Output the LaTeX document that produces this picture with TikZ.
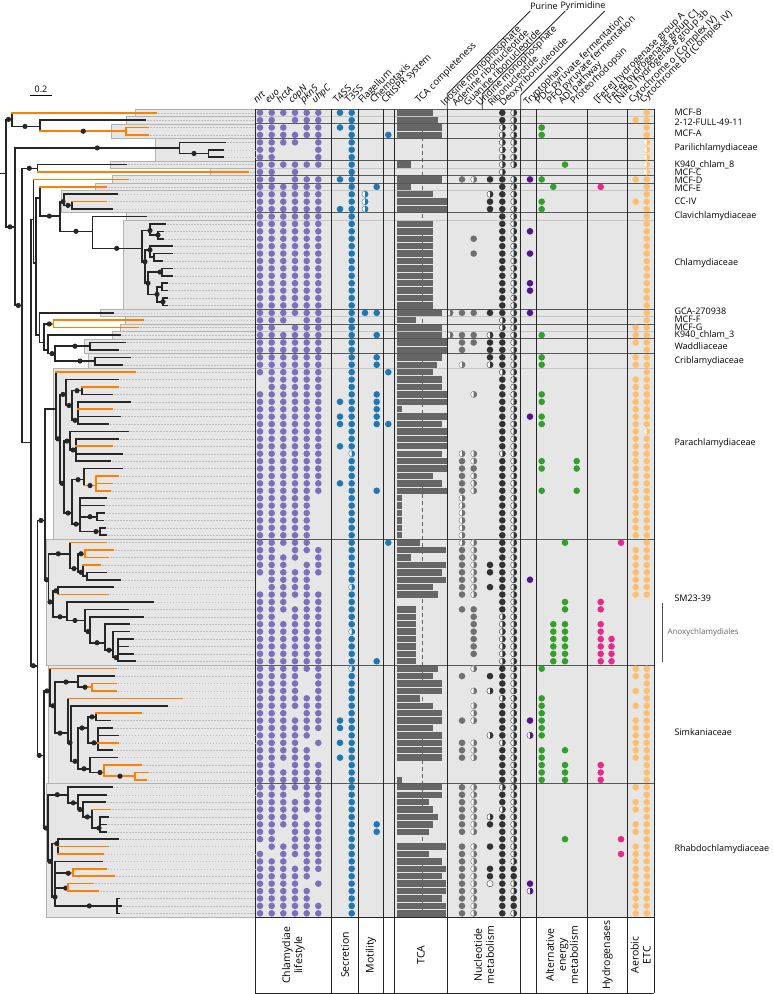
\documentclass[tikz,border=0pt]{standalone}
\usepackage{fontspec}
\setmainfont{Open Sans}
\definecolor{lifeP}{RGB}{124,112,188}
\definecolor{secB}{RGB}{31,120,180}
\definecolor{tcaG}{RGB}{102,102,102}
\definecolor{nucG}{RGB}{112,112,112}
\definecolor{nucK}{RGB}{50,50,50}
\definecolor{trpP}{RGB}{84,20,140}
\definecolor{altG}{RGB}{51,160,44}
\definecolor{hydP}{RGB}{231,41,138}
\definecolor{etcO}{RGB}{253,191,111}
\definecolor{brO}{RGB}{255,127,0}
\definecolor{boxG}{RGB}{230,230,230}
\def\dotr{3.3}
\newcommand\fulldot[3]{\fill[#3] (#1,{ry(#2)}) circle[radius=\dotr];}
\newcommand\halfdot[3]{\fill[white] (#1,{ry(#2)}) circle[radius=\dotr];
  \fill[#3] (#1,{ry(#2)-\dotr}) arc[start angle=-90,end angle=90,radius=\dotr] -- cycle;
  \draw[#3,line width=0.4pt] (#1,{ry(#2)}) circle[radius=3.1];}
\makeatletter
\newcommand\dotcol[6]{%
  \foreach \r in {0,...,108}{%
    \def\dcode{#3}%
    \edef\dtmp{\noexpand\in@{,\r,}{,#4,}}\dtmp\ifin@\def\dcode{F}\fi
    \edef\dtmp{\noexpand\in@{,\r,}{,#5,}}\dtmp\ifin@\def\dcode{H}\fi
    \edef\dtmp{\noexpand\in@{,\r,}{,#6,}}\dtmp\ifin@\def\dcode{N}\fi
    \if F\dcode\fulldot{#1}{\r}{#2}\fi
    \if H\dcode\halfdot{#1}{\r}{#2}\fi
  }%
}
\makeatother
\newcommand\Th[3]{\draw[trB] (#1,{ry(#3)}) -- (#2,{ry(#3)});}
\newcommand\To[3]{\draw[trO] (#1,{ry(#3)}) -- (#2,{ry(#3)});}
\newcommand\Tv[3]{\draw[trB] (#1,{ry(#2)}) -- (#1,{ry(#3)});}
\newcommand\Tw[3]{\draw[trO] (#1,{ry(#2)}) -- (#1,{ry(#3)});}
\newcommand\Lb[3]{\draw[guide] ({#2+2},{ry(#3)}) -- (255,{ry(#3)});\draw[trB] (#1,{ry(#3)}) -- (#2,{ry(#3)});}
\newcommand\Lo[3]{\draw[guide] ({#2+2},{ry(#3)}) -- (255,{ry(#3)});\draw[trO] (#1,{ry(#3)}) -- (#2,{ry(#3)});}
\newcommand\Nd[2]{\fill[black!85] (#1,{ry(#2)}) circle[radius=2.6];}
\newcommand\Bx[3]{\draw[cbox] (#1,{109+7.413*#2}) rectangle (654,{109+7.413*#3});}
\begin{document}
\begin{tikzpicture}[x=1pt,y=-1pt,declare function={ry(\r)=112.7+7.413*\r;},
 trB/.style={line width=1.6pt,black!85,line cap=rect},
 trO/.style={line width=1.6pt,brO,line cap=rect},
 guide/.style={gray!50,line width=0.4pt,dash pattern=on 1.5pt off 1.5pt},
 cbox/.style={fill=boxG,draw=gray!60,line width=0.6pt},
 sepD/.style={black!65,line width=0.8pt},
 sepL/.style={gray!45,line width=1.3pt},
 colL/.style={black!85,line width=0.8pt},
 hdr/.style={rotate=45,anchor=base west,inner sep=0pt,font=\fontsize{9.5}{10}\selectfont},
 rlab/.style={anchor=west,inner sep=0pt,font=\fontsize{9}{10}\selectfont},
 blab/.style={rotate=90,align=center,inner sep=0pt,font=\fontsize{10.5}{12}\selectfont}]
\useasboundingbox (0,0) rectangle (773,994);
\fill[white] (0,0) rectangle (773,994);
% clade boxes
\Bx{135}{0}{1}\Bx{126.7}{1}{2}\Bx{111.7}{2}{4}\Bx{155}{4}{7}\Bx{110.7}{7}{8}
\Bx{210.7}{8}{9}\Bx{112.7}{9}{10}\Bx{95}{10}{11}\Bx{61.7}{11}{14}\Bx{126.7}{14}{15}
\Bx{123.3}{15}{27}\Bx{100}{27}{28}\Bx{125}{28}{29}\Bx{120.7}{29}{30}\Bx{112}{30}{31}
\Bx{84}{31}{33}\Bx{88}{33}{35}\Bx{53}{35}{58}\Bx{46}{58}{75}\Bx{48}{75}{91}\Bx{46}{91}{109}
% table
\fill[boxG] (255,109) rectangle (654,917);
\draw[tcaG,line width=0.9pt,dash pattern=on 4pt off 3pt] (422,109) -- (422,917);
\foreach \r/\e in {0/433,1/438,2/442,3/442,7/411,9/442,10/411,11/433,12/447,13/447,
15/433,16/433,17/433,18/433,19/433,20/433,21/433,22/433,23/433,24/433,25/433,26/433,
27/442,28/416,29/442,30/442,31/447,32/447,33/442,34/437,35/433,36/442,37/442,38/447,39/447,40/402,41/447,42/442,43/447,44/447,45/447,46/442,47/447,48/447,49/433,50/442,51/447,
52/402,53/402,54/402,55/402,56/402,57/402,58/420,59/446,60/411,61/446,62/442,63/446,64/433,65/438,
67/416,68/416,69/416,70/416,71/416,72/416,73/416,74/416,
75/438,76/433,77/442,78/442,79/420,80/433,81/442,82/442,83/433,84/442,85/442,86/442,87/442,90/402,
91/442,92/442,93/429,94/433,95/438,96/433,97/429,99/446,100/429,101/442,102/446,103/442,104/446,105/446,106/442,107/446,108/446}
  {\fill[tcaG] (397.3,{ry(\r)-3.2}) rectangle (\e,{ry(\r)+3.2});}
\foreach \k in {1,8,11,15,28,30,35} \draw[sepL] (255,{109+7.413*\k}) -- (654,{109+7.413*\k});
\foreach \k in {0,2,4,7,9,10,14,27,29,31,33,58,75,91,109} \draw[sepD] (255,{109+7.413*\k}) -- (654,{109+7.413*\k});
% dots
\dotcol{260}{lifeP}{F}{}{}{36,37,63,64,99}
\dotcol{271.7}{lifeP}{F}{}{}{100}
\dotcol{283.3}{lifeP}{F}{}{}{1,5,6,8,9,29,59,68,88,97,98}
\dotcol{295}{lifeP}{F}{}{}{2,5,6,28,61,66,81,92,101}
\dotcol{306.7}{lifeP}{F}{}{}{4,5,6,8,60,76,77,78,85,95,104}
\dotcol{318.3}{lifeP}{F}{}{}{8,52,53,54,55,56,57,58,63,64,84,86,87,103,105,106}
\dotcol{340}{secB}{N}{0,2,9,13,39,41,42,45,50,82,83,85,87}{}{}
\dotcol{351.7}{secB}{F}{}{46,64,70,75}{}
\dotcol{365}{secB}{N}{27}{11,12,13}{}
\dotcol{376.7}{secB}{N}{10,27,30,33,34,38,39,40,41,42,51,74,96,97}{}{}
\dotcol{388.3}{secB}{N}{3,35,42,58}{}{}
\dotcol{450}{nucG}{N}{}{27,30}{}
\dotcol{462}{nucG}{N}{9,27,30,31,32,47,48,49,50,51,59,60,61,62,63,64,65,67,76,82,85,86,87,91,92,93,94,95,96,97,99,100,101,102,103,104,105,106,107,108}{34,46,52,53,54,55,56,57,58}{}
\dotcol{473.7}{nucG}{N}{17,19,27,30,31,48,67,68,69,70,71,72,73}{9,38,46,47,49,50,51,58,59,60,61,62,63,64,65,75,78,80,81,82,85,86,87,91,92,93,94,95,96,97,99,100,101,102,103,104,105,106,107,108}{}
\dotcol{490}{nucK}{N}{9,12,13,27,31,32,33,61,62,64,76,96,99,102,103}{11,30,34,78,84,95}{}
\draw[nucK,fill=white,line width=0.4pt] (490,{ry(104)}) circle[radius=3.1];
\dotcol{502.3}{nucK}{F}{}{2,3,4,5,6,7,8,28,29,35,46,68,69,70,71,72,73,74,79,85,91,94}{}
\dotcol{513.7}{nucK}{H}{102,103,106,107}{}{8}
\dotcol{530}{trpP}{N}{9,16,19,23,24,27,41,63,82,104}{84,105}{}
\dotcol{541.7}{altG}{N}{2,3,9,12,13,30,33,34,38,39,41,42,47,48,51,75,79,80,81,82,83,84,86,87,88,89,90}{}{}
\dotcol{553.3}{altG}{N}{10,69,70,71,72,73,74}{}{}
\dotcol{565}{altG}{N}{7,58,66,67,69,70,71,72,73,74,86,88,89,90,98}{}{}
\dotcol{576.7}{altG}{N}{47,48,51}{}{}
\dotcol{600.7}{hydP}{N}{10,66,67,69,70,71,72,73,74,88,89,90}{}{}
\dotcol{611.5}{hydP}{N}{71,72,73,74}{}{}
\dotcol{621}{hydP}{N}{58,98,100}{}{}
\dotcol{635.7}{etcO}{N}{1,9,12,29,30,31,33,34,36,37,38,39,40,41,42,43,44,45,46,47,48,49,50,51,52,53,54,55,56,57,59,60,61,62,63,64,65,75,76,78,80,82,83,84,85,86,87,91,93,94,96,97,99,100,101,102,103,104,105,106,107,108}{}{}
\dotcol{646.7}{etcO}{F}{}{4,5,6,7,8,43}{66,67,68,69,70,71,72,73,74}
% column lines
\foreach \x in {255,331.7,358.3,383.3,394.3,447.3,520.7,536,587.7,627.3,654} \draw[colL] (\x,109) -- (\x,993);
\draw[colL] (255,917) -- (654,917);
\draw[colL] (255,993) -- (654,993);
\draw[colL] (447.3,109) -- (447.3,94) -- (530.3,11);
\draw[colL] (482.3,109) -- (482.3,94) -- (565.3,11);
\draw[colL] (520.7,109) -- (520.7,95) -- (604.7,11);
% tree
\Th{0}{6}{8.2}\Tv{6}{0.9}{15.4}
\Th{6}{11.7}{0.9}\Nd{8.5}{0.9}\Tv{11.7}{0}{1.85}
\Lo{11.7}{156}{0}
\Th{11.7}{40}{1.85}\Nd{25}{1.85}\Tv{40}{1}{2.5}
\Lb{40}{145}{1}
\To{40}{126}{2.5}\Nd{83.3}{2.5}\Tw{126}{2}{3}
\Lo{126}{148}{2}\Lo{126}{148}{3}
\Th{6}{15}{15.4}\Nd{10}{15.4}\Tv{15}{4.75}{26}
\Th{15}{179.3}{4.75}\Nd{97.3}{4.75}\Tv{179.3}{4}{5.5}
\Lb{179.3}{225}{4}
\Th{179.3}{208.3}{5.5}\Nd{194}{5.5}\Tv{208.3}{5}{6}
\Lb{208.3}{222.7}{5}\Lb{208.3}{222.7}{6}
\Th{15}{21.7}{26}\Nd{18.3}{26}\Tv{21.7}{7.5}{44.5}
\Th{21.7}{37.3}{7.5}\Nd{29.3}{7.5}\Tv{37.3}{7}{8}
\Lb{37.3}{126}{7}\Lo{37.3}{248.3}{8}
\Th{21.7}{30.7}{44.5}\Tv{30.7}{14.4}{74.6}
\Th{30.7}{33.3}{14.4}\Tv{33.3}{9}{20.3}
\Lo{33.3}{127.7}{9}
\Th{33.3}{36}{20.3}\Tv{36}{11.5}{30}
\Th{36}{40}{11.5}\Tv{40}{10}{13.95}
\Lo{40}{106}{10}
\Th{40}{60}{13.95}\Nd{49.3}{13.95}\Tv{60}{12}{16}
\Th{60}{64}{12}\Nd{63}{12}\Tv{64}{11}{12.5}
\Lb{64}{116.7}{11}
\Th{64}{71.7}{12.5}\Nd{68}{12.5}\Tv{71.7}{12}{13}
\Lo{71.7}{106}{12}\Lb{71.7}{111.7}{13}
\Th{60}{92.3}{16}\Nd{76}{16}\Tv{92.3}{14}{18.3}
\Lb{92.3}{145.7}{14}
\Th{92.3}{141.7}{18.3}\Nd{116.7}{18.3}\Tv{141.7}{15.9}{20.1}
\Th{141.7}{150}{15.9}\Nd{150}{15.9}\Tv{150}{15}{16.5}
\Lb{150}{165}{15}
\Th{150}{158}{16.5}\Nd{158}{16.5}\Tv{158}{16}{17}
\Lb{158}{163}{16}\Lb{158}{163}{17}
\Th{141.7}{145}{20.1}\Nd{145}{20.1}\Tv{145}{18.5}{23}
\Th{145}{150}{18.5}\Nd{150}{18.5}\Tv{150}{18}{19.5}
\Lb{150}{172}{18}
\Th{150}{154}{19.5}\Tv{154}{19}{20}
\Lb{154}{172}{19}\Lb{154}{162}{20}
\Th{145}{148}{23}\Nd{148}{23}\Tv{148}{21.5}{24.5}
\Th{148}{162}{21.5}\Nd{160}{21.5}\Tv{162}{21}{22}
\Lb{162}{172}{21}\Lb{162}{172}{22}
\Th{148}{157}{24.5}\Nd{157}{24.5}\Tv{157}{23.5}{25.5}
\Th{157}{162}{23.5}\Tv{162}{23}{24}
\Lb{162}{167}{23}\Lb{162}{167}{24}
\Th{157}{163}{25.5}\Nd{163}{25.5}\Tv{163}{25}{26}
\Lb{163}{167}{25}\Lb{163}{167}{26}
\Th{36}{39.3}{30}\Tv{39.3}{27}{31}
\Lb{39.3}{112.7}{27}
\Th{39.3}{44}{31}\Tv{44}{28.5}{32}
\Th{44}{49.3}{28.5}\To{49.3}{53.3}{28.5}\Nd{49.3}{28.5}\Tw{53.3}{28}{29}
\Lo{53.3}{142.7}{28}\Lo{53.3}{138.3}{29}
\Th{44}{48}{32}\Tv{48}{30}{32.5}
\Lb{48}{120}{30}
\Th{48}{55}{32.5}\Nd{52}{32.5}\Tv{55}{31.5}{33.5}
\Th{55}{90}{31.5}\Nd{75}{31.5}\Tv{90}{31}{32}
\Lb{90}{125}{31}\Lb{90}{118}{32}
\Th{55}{95}{33.5}\Nd{80}{33.5}\Tv{95}{33}{34}
\Lb{95}{130}{33}\Lb{95}{122}{34}
% E, F, Parachlamydiaceae
\Th{30.7}{37.3}{74.6}\Nd{33.3}{74.6}\Tv{37.3}{55}{86.7}
\Th{37.3}{45}{55}\Nd{41}{55}\Tv{45}{40}{63}
\Th{45}{56}{40}\Tv{56}{35}{44}
\Lo{56}{135}{35}
\Th{56}{60}{44}\Nd{58}{44}\Tv{60}{38}{50}
\Th{60}{66}{38}\Nd{63}{38}\Tv{66}{36}{39.5}
\Lb{66}{118}{36}
\Th{66}{72}{39.5}\Nd{69}{39.5}\Tv{72}{37.5}{41.5}
\Th{72}{82}{37.5}\Nd{77}{37.5}\Tv{82}{37}{38}
\Lo{82}{118}{37}\Lb{82}{112}{38}
\Th{72}{78}{41.5}\Nd{75}{41.5}\Tv{78}{39}{42}
\Lb{78}{130}{39}\Lo{78}{112}{40}\Lb{78}{120}{41}\Lb{78}{108}{42}
\Th{60}{64}{50}\Nd{62}{50}\Tv{64}{44.3}{54}
\Th{64}{70}{44.3}\Nd{67}{44.3}\Tv{70}{43}{45.5}
\Lb{70}{128}{43}
\Th{70}{76}{45.5}\Nd{73}{45.5}\Tv{76}{44}{47}
\Lb{76}{118}{44}\Lo{76}{112}{45}\Lb{76}{122}{46}\Lb{76}{110}{47}
\Th{64}{72}{54}\Nd{68}{54}\Tv{72}{49.5}{55.5}
\Th{72}{84}{49.5}\Nd{78}{49.5}\Tv{84}{48}{50.3}
\Lb{84}{122}{48}
\To{84}{96}{50.3}\Nd{90}{50.3}\Tw{96}{49}{51}
\Lo{96}{118}{49}\Lo{96}{112}{50}\Lo{96}{110}{51}
\Th{72}{80}{55.5}\Nd{76}{55.5}\Tv{80}{52}{56.5}
\Lb{80}{106}{52}\Lb{80}{104}{53}
\Th{80}{97}{54.5}\Nd{90}{54.5}\Tv{97}{54}{55}
\Lb{97}{104}{54}\Lb{97}{103}{55}
\Th{80}{100}{56.5}\Nd{96}{56.5}\Tv{100}{56}{57}
\Lb{100}{105}{56}\Lb{100}{106}{57}
% SM23-39 / Anoxychlamydiales
\Th{45}{48.3}{63}\Nd{46.5}{63}\Tv{48.3}{59.5}{66}
\Th{48.3}{70}{59.5}\Nd{58.3}{59.5}\Tv{70}{58}{61.5}
\Lo{70}{106}{58}
\Th{70}{78}{61.5}\Nd{74}{61.5}\Tv{78}{59.5}{62}
\Th{78}{81}{59.5}\To{81}{85}{59.5}\Nd{81}{59.5}\Tw{85}{59}{60}
\Lo{85}{113.3}{59}\Lo{85}{108.3}{60}
\Th{78}{83}{62}\Nd{81}{62}\Tv{83}{61}{62.5}
\Lo{83}{100}{61}
\Th{83}{87}{62.5}\Tv{87}{62}{63}
\Lb{87}{106}{62}\Lb{87}{120}{63}
\Th{48.3}{53}{66}\Nd{50}{66}\Tv{53}{64.5}{68}
\Th{53}{58}{64.5}\Nd{56}{64.5}\Tv{58}{64}{65}
\Lb{58}{112.7}{64}\Lo{58}{107.7}{65}
\Th{53}{66.7}{68}\Nd{60}{68}\Tv{66.7}{66}{68.5}
\Lb{66.7}{152.7}{66}
\Th{66.7}{85}{68.5}\Nd{75}{68.5}\Tv{85}{67}{70}
\Lb{85}{128.3}{67}
\Th{85}{90}{70}\Nd{88}{70}\Tv{90}{68}{71.5}
\Lb{90}{143.3}{68}
\Th{90}{105}{71.5}\Nd{97}{71.5}\Tv{105}{69}{72.5}
\Lb{105}{129}{69}
\Th{105}{113}{72.5}\Nd{109}{72.5}\Tv{113}{70}{73.5}
\Lb{113}{129}{70}
\Th{113}{118}{73.5}\Nd{116}{73.5}\Tv{118}{71}{74}
\Lb{118}{133}{71}\Lb{118}{128}{72}\Lb{118}{133}{73}\Lb{118}{135}{74}
% Simkaniaceae
\Th{37.3}{44}{86.7}\Nd{39.3}{86.7}\Tv{44}{78}{96.5}
\Th{44}{50}{78}\Nd{47}{78}\Tv{50}{75}{80}
\Lo{50}{115.7}{75}
\Th{50}{55}{80}\Nd{53}{80}\Tv{55}{76.8}{83.7}
\Th{55}{78}{76.8}\Nd{66}{76.8}\Tv{78}{76}{77.5}
\Lb{78}{114.3}{76}
\Th{78}{85}{77.5}\To{85}{92}{77.5}\Nd{85}{77.5}\Tw{92}{77}{78}
\Lo{92}{115.7}{77}\Lo{92}{115.7}{78}
\Th{55}{68}{83.7}\Nd{60}{83.7}\Tv{68}{79}{85}
\Lo{68}{181.7}{79}
\Th{68}{71}{85}\Nd{70}{85}\Tv{71}{80}{87.5}
\Lb{71}{166.7}{80}
\Th{71}{78}{87.5}\Nd{75}{87.5}\Tv{78}{83}{88.5}
\Th{78}{88}{83}\Nd{82}{83}\Tv{88}{81.5}{85}
\Th{88}{96}{81.5}\Nd{92}{81.5}\Tv{96}{81}{82}
\Lo{96}{140.7}{81}\Lb{96}{110}{82}
\Th{88}{98}{85}\Nd{94}{85}\Tv{98}{83}{86}
\Lb{98}{112}{83}\Lb{98}{117.7}{84}\Lo{98}{117.7}{85}\Lb{98}{112}{86}
\Th{78}{90}{88.5}\Nd{84}{88.5}\Tv{90}{87}{89}
\Lb{90}{116.7}{87}
\Th{90}{100}{89}\To{100}{104}{89}\Nd{100}{89}\Tw{104}{88}{89.5}
\Lo{104}{141}{88}
\To{104}{135}{89.5}\Nd{120}{89.5}\Tw{135}{89}{90}
\Lo{135}{148.3}{89}\Lo{135}{145.7}{90}
% Rhabdochlamydiaceae
\Th{44}{48}{96.5}\Nd{46}{96.5}\Tv{48}{92}{101}
\Th{48}{68}{92}\Nd{57.3}{92}\Tv{68}{91}{93.1}
\Lb{68}{111.7}{91}
\Th{68}{78}{93.1}\Nd{73.3}{93.1}\Tv{78}{92}{94}
\Lb{78}{105.7}{92}
\Th{78}{83}{94}\Nd{80}{94}\Tv{83}{93}{95}
\Lb{83}{105}{93}
\Th{83}{92}{95}\Nd{87.3}{95}\Tv{92}{94}{96.5}
\Lo{92}{110}{94}
\Th{92}{100}{96.5}\Nd{99}{96.5}\Tv{100}{95}{97}
\Lb{100}{108.3}{95}\Lb{100}{106}{96}\Lb{100}{106}{97}
\Th{48}{52}{101}\Nd{50}{101}\Tv{52}{98.6}{105.8}
\Th{52}{58}{98.6}\Nd{56.7}{98.6}\Tv{58}{98}{100}
\Lb{58}{118.3}{98}\Lo{58}{107.7}{99}\Lo{58}{102.7}{100}
\Th{52}{55}{105.8}\Nd{55}{105.8}\Tv{55}{101}{107}
\Lb{55}{101.7}{101}
\Th{55}{68.3}{102.6}\To{68.3}{73}{102.6}\Nd{68.3}{102.6}\Tw{73}{102}{103}
\Lo{73}{105.7}{102}\Lo{73}{114}{103}
\Th{55}{65.7}{104.6}\To{65.7}{67.7}{104.6}\Nd{65.7}{104.6}\Tw{67.7}{104}{105}
\Lo{67.7}{93.3}{104}\Lo{67.7}{98.3}{105}
\Th{55}{117}{107}\Nd{89.3}{107}\Tv{117}{106}{108}
\Lb{117}{119}{106}\Lb{117}{121}{107}\Lb{117}{119}{108}
% scale bar
\node[font=\fontsize{9}{10}\selectfont,inner sep=0pt] (scale) at (41,89) {0.2};
\draw[black,line width=0.8pt] (30,95.7) -- (51.7,95.7);
% header labels
\node[hdr] (h1) at (257,104) {\itshape nrt};
\node[hdr] (h2) at (268.7,104) {\itshape euo};
\node[hdr] (h3) at (280.3,104) {\itshape hctA};
\node[hdr] (h4) at (292,104) {\itshape copN};
\node[hdr] (h5) at (303.7,104) {\itshape pkn5};
\node[hdr] (h6) at (315.3,104) {\itshape uhpC};
\node[hdr] (h7) at (337,104) {T4SS};
\node[hdr] (h8) at (348.7,104) {T3SS};
\node[hdr] (h9) at (362,104) {Flagellum};
\node[hdr] (h10) at (373.7,104) {Chemotaxis};
\node[hdr] (h11) at (385.3,104) {CRISPR system};
\node[hdr] (h12) at (419,104) {TCA completeness};
\node[hdr] (h13) at (444.5,107) {Inosine monophosphate};
\node[hdr] (h14) at (456,107) {Adenine ribonucleotide};
\node[hdr] (h15) at (467.5,107) {Guanine ribonucleotide};
\node[hdr] (h16) at (480,107) {Uridine monophosphate};
\node[hdr] (h17) at (491.7,107) {Ribonucleotide};
\node[hdr] (h18) at (503.3,107) {Deoxyribonucleotide};
\node[hdr] (h19) at (527.5,106) {Tryptophan};
\node[hdr] (h20) at (539,105) {PDC pyruvate fermentation};
\node[hdr] (h21) at (550.6,105) {PFO pyruvate fermentation};
\node[hdr] (h22) at (562.3,105) {ADI pathway};
\node[hdr] (h23) at (574,105) {Proteorhodopsin};
\node[hdr] (h24) at (597.5,104) {[FeFe] hydrogenase group A};
\node[hdr] (h25) at (608.3,104) {[FeFe] hydrogenase group C1};
\node[hdr] (h26) at (618,104) {[NiFe] hydrogenase group 3b};
\node[hdr] (h27) at (632.5,104) {Cytochrome o (Complex IV)};
\node[hdr] (h28) at (643.5,104) {Cytochrome bd (Complex IV)};
\node[font=\fontsize{9}{10}\selectfont,inner sep=0pt] (purine) at (544,6) {Purine};
\node[font=\fontsize{9}{10}\selectfont,inner sep=0pt] (pyrimidine) at (583,6) {Pyrimidine};
% right labels
\node[rlab] (l1) at (674.3,112.7) {MCF-B};
\node[rlab] (l2) at (674.3,122.3) {2-12-FULL-49-11};
\node[rlab] (l3) at (674.3,133.3) {MCF-A};
\node[rlab] (l4) at (674.3,147.7) {Parilichlamydiaceae};
\node[rlab] (l5) at (674.3,164.3) {K940\_chlam\_8};
\node[rlab] (l6) at (674.3,172) {MCF-C};
\node[rlab] (l7) at (674.3,180) {MCF-D};
\node[rlab] (l8) at (674.3,188.3) {MCF-E};
\node[rlab] (l9) at (674.3,201) {CC-IV};
\node[rlab] (l10) at (674.3,215.7) {Clavichlamydiaceae};
\node[rlab] (l11) at (674.3,262.7) {Chlamydiaceae};
\node[rlab] (l12) at (674.3,311.7) {GCA-270938};
\node[rlab] (l13) at (674.3,319.3) {MCF-F};
\node[rlab] (l14) at (674.3,327.3) {MCF-G};
\node[rlab] (l15) at (674.3,335) {K940\_chlam\_3};
\node[rlab] (l16) at (674.3,346) {Waddliaceae};
\node[rlab] (l17) at (674.3,360.7) {Criblamydiaceae};
\node[rlab] (l18) at (674.3,443.3) {Parachlamydiaceae};
\node[rlab] (l19) at (674.3,598.3) {SM23-39};
\node[rlab] (l20) at (674.3,732.3) {Simkaniaceae};
\node[rlab] (l21) at (674.3,849.3) {Rhabdochlamydiaceae};
\draw[black!70,line width=0.8pt] (662.7,603) -- (662.7,661.7);
\node[anchor=west,inner sep=0pt,text=black!60,font=\fontsize{8}{9}\selectfont] (anoxy) at (667.3,632.7) {Anoxychlamydiales};
% bottom labels
\node[blab] (b1) at (293.3,955) {Chlamydiae\\lifestyle};
\node[blab] (b2) at (345,955) {Secretion};
\node[blab] (b3) at (370.8,955) {Motility};
\node[blab] (b4) at (420.8,955) {TCA};
\node[blab] (b5) at (484,955) {Nucleotide\\metabolism};
\node[blab] (b6) at (561.9,955) {Alternative\\energy\\metabolism};
\node[blab] (b7) at (607.5,955) {Hydrogenases};
\node[blab] (b8) at (640.7,955) {Aerobic\\ETC};
\end{tikzpicture}
\end{document}
